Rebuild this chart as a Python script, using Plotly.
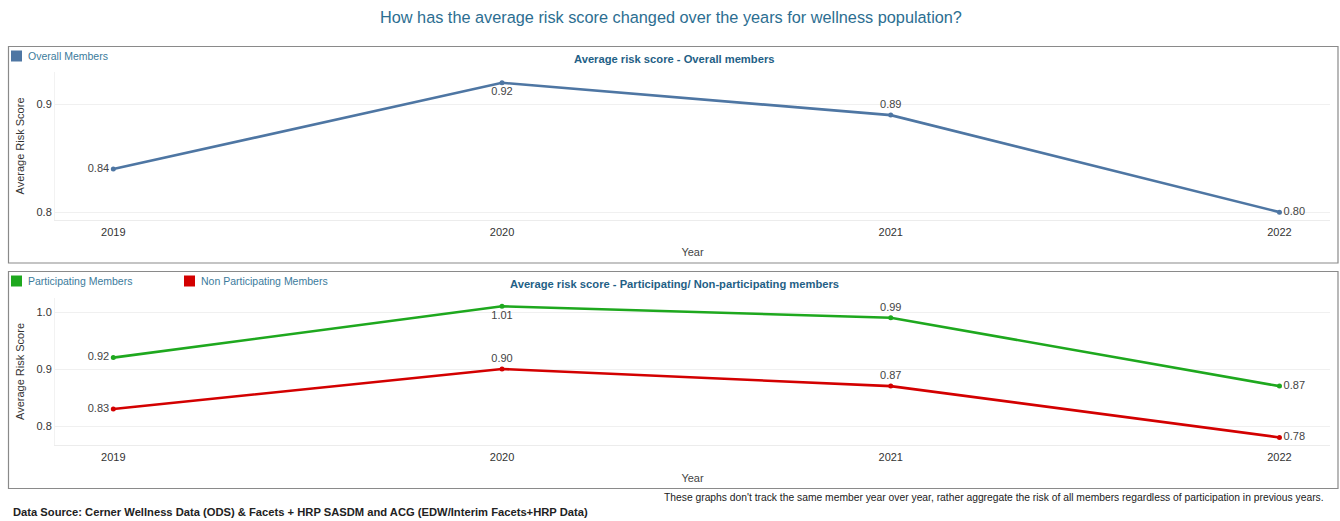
import plotly.graph_objects as go

years = ["2019", "2020", "2021", "2022"]
overall = [0.84, 0.92, 0.89, 0.80]
participating = [0.92, 1.01, 0.99, 0.87]
non_participating = [0.83, 0.90, 0.87, 0.78]

overall_pos = ["middle left", "bottom center", "top center", "middle right"]
part_pos = ["middle left", "bottom center", "top center", "middle right"]
nonpart_pos = ["middle left", "top center", "top center", "middle right"]

W, H = 1340, 521
BLUE = "#4e76a3"
GREEN = "#1ea81e"
RED = "#d30000"
TEAL = "#2c6e91"
FONT = "Liberation Sans, Arial, sans-serif"

def py(p):
    return 1 - p / H

def px(p):
    return p / W

fig = go.Figure()

def add_line(y, color, pos, xa, ya, name):
    fig.add_trace(go.Scatter(
        x=years, y=y, mode="lines+markers+text", name=name,
        line=dict(color=color, width=2.6),
        marker=dict(color=color, size=5),
        text=[f"{v:.2f}" for v in y], textposition=pos,
        textfont=dict(size=11, color="#444", family=FONT),
        xaxis=xa, yaxis=ya, showlegend=False, cliponaxis=False,
    ))

add_line(overall, BLUE, overall_pos, "x", "y", "Overall Members")
add_line(participating, GREEN, part_pos, "x2", "y2", "Participating Members")
add_line(non_participating, RED, nonpart_pos, "x2", "y2", "Non Participating Members")

xdom = [px(55), px(1330)]
axis_common = dict(showgrid=True, gridcolor="#f0f0f0", zeroline=False,
                   tickfont=dict(size=11, color="#333", family=FONT))

def xaxis_def(anchor, standoff):
    return dict(domain=xdom, anchor=anchor, type="category", range=[-0.15, 3.13],
                showgrid=False, showline=True, linecolor="#ececec", ticks="",
                ticklabelstandoff=2,
                tickfont=dict(size=11, color="#333", family=FONT),
                title=dict(text="Year", font=dict(size=11, color="#444", family=FONT), standoff=standoff))

fig.update_layout(
    width=W, height=H, margin=dict(l=0, r=0, t=0, b=0),
    paper_bgcolor="white", plot_bgcolor="white",
    font=dict(family=FONT),
    xaxis=xaxis_def("y", 11),
    yaxis=dict(domain=[py(220), py(72)], anchor="x", range=[0.7927, 0.93],
               tickvals=[0.8, 0.9], ticktext=["0.8", "0.9"], showline=True, linecolor="#f2f2f2",
               title=dict(text="Average Risk Score", font=dict(size=11, color="#333", family=FONT), standoff=9),
               **axis_common),
    xaxis2=xaxis_def("y2", 12),
    yaxis2=dict(domain=[py(445), py(298)], anchor="x2", range=[0.7667, 1.0246],
                tickvals=[0.8, 0.9, 1.0], ticktext=["0.8", "0.9", "1.0"], showline=True, linecolor="#f2f2f2",
                title=dict(text="Average Risk Score", font=dict(size=11, color="#333", family=FONT), standoff=9),
                **axis_common),
)

# panel borders
for y0, y1 in [(46.5, 263), (271.5, 488.5)]:
    fig.add_shape(type="rect", xref="paper", yref="paper",
                  x0=px(8.5), x1=px(1338), y0=py(y1), y1=py(y0),
                  line=dict(color="#8a8a8a", width=1.2), layer="below")

def ann(text, x, y, size, color, xanchor="left", bold=False):
    fig.add_annotation(text=f"<b>{text}</b>" if bold else text,
                       x=px(x), y=py(y), xref="paper", yref="paper",
                       xanchor=xanchor, yanchor="middle", showarrow=False,
                       font=dict(size=size, color=color, family=FONT))

ann("How has the average risk score changed over the years for wellness population?", 671, 17, 16.3, TEAL, "center")
ann("Average risk score - Overall members", 674, 59, 11.2, "#1f5f86", "center", bold=True)
ann("Average risk score - Participating/ Non-participating members", 674, 284, 11.2, "#1f5f86", "center", bold=True)

# legends
def legend_item(x, y, color, label):
    fig.add_shape(type="rect", xref="paper", yref="paper",
                  x0=px(x), x1=px(x + 11), y0=py(y + 5.5), y1=py(y - 5.5),
                  line=dict(width=0), fillcolor=color)
    ann(label, x + 15, y, 10.5, "#3b7b9c")

legend_item(11, 56, BLUE, "Overall Members")
legend_item(11, 281, GREEN, "Participating Members")
legend_item(184, 281, RED, "Non Participating Members")

ann("These graphs don't track the same member year over year, rather aggregate the risk of all members regardless of participation in previous years.",
    1326, 497, 10.3, "#222", "right")
ann("Data Source: Cerner Wellness Data (ODS) &amp; Facets + HRP SASDM and ACG (EDW/Interim Facets+HRP Data)",
    11, 512, 11.2, "#222", "left", bold=True)

fig.write_html("out.html")
